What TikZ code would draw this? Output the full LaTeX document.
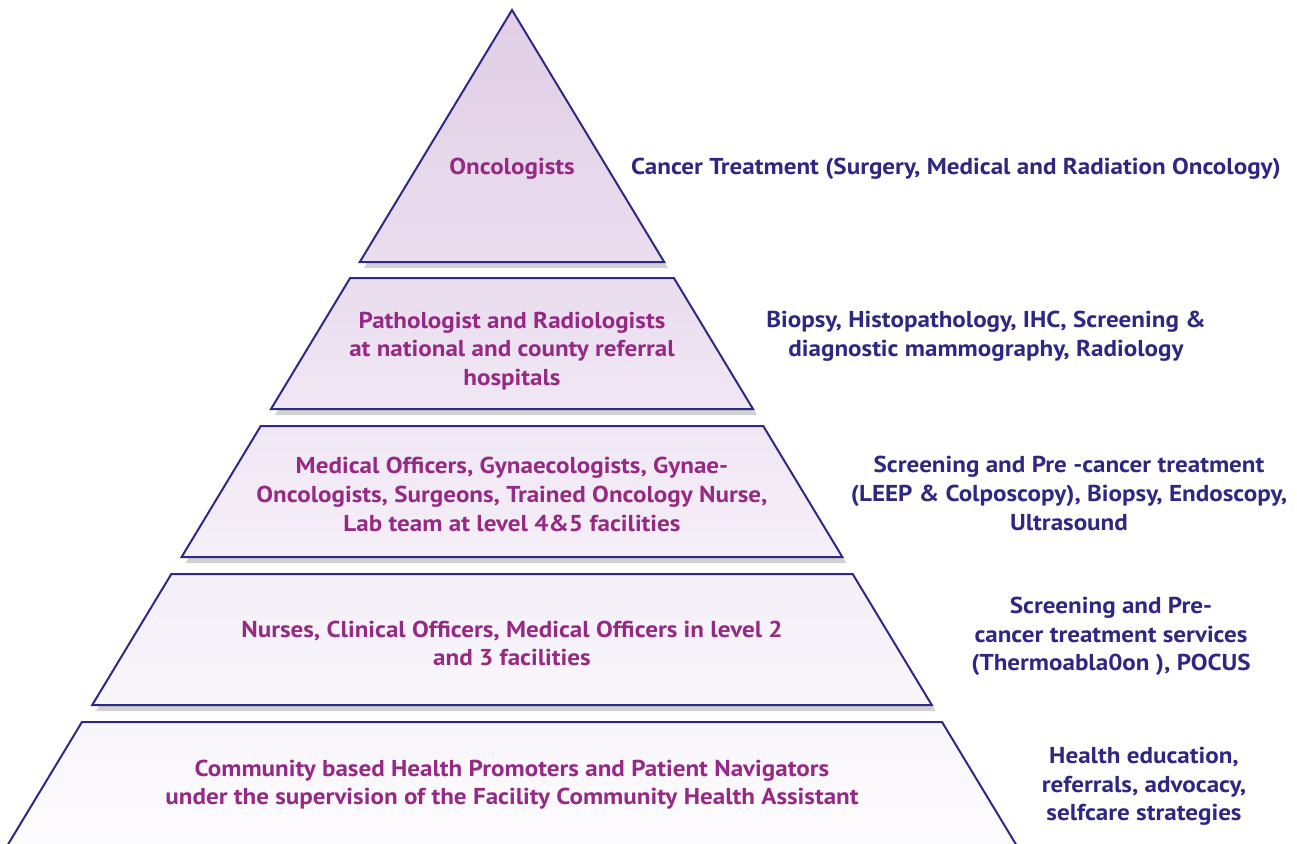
\documentclass[tikz,border=0pt]{standalone}
\usepackage{fontspec}
\setmainfont{PT Sans}[FakeStretch=1.09]
\usepackage{tikz}
\usetikzlibrary{positioning}
\usetikzlibrary{shadows}

\definecolor{edgecol}{HTML}{2E2A84}
\definecolor{rolecol}{HTML}{952A84}
\definecolor{taskcol}{HTML}{2F2782}
\definecolor{bandA}{RGB}{225,206,229}
\definecolor{bandB}{RGB}{234,221,238}
\definecolor{bandC}{RGB}{240,231,244}
\definecolor{bandD}{RGB}{245,239,248}
\definecolor{bandE}{RGB}{249,246,251}
\definecolor{bandF}{RGB}{253,252,254}

\tikzset{
	band/.style={draw=edgecol, line width=1pt, line join=miter,
		drop shadow={shadow xshift=2pt, shadow yshift=-3pt, opacity=0.18, fill=black}},
	role/.style={text=rolecol, align=center, font=\bfseries\fontsize{11.5}{14.3}\selectfont},
	task/.style={text=taskcol, align=center, font=\bfseries\fontsize{11.5}{14.3}\selectfont},
}

\begin{document}
\begin{tikzpicture}[x=0.5pt, y=-0.5pt]
	\clip (0,0) rectangle (1297,843);
	\useasboundingbox (0,0) rectangle (1297,843);
	\fill[white] (0,0) rectangle (1297,843);

	% pyramid bands, all on one slope from the apex at (512,10)
	\foreach \ytop/\ybot/\ctop/\cbot in {10/262/bandA/bandB, 278/409/bandB/bandC, 426/557/bandC/bandD, 574/705/bandD/bandE, 722/870/bandE/bandF}
		\draw[band, top color=\ctop, bottom color=\cbot]
			({512-0.604*(\ytop-10)},\ytop) -- ({512+0.604*(\ytop-10)},\ytop)
			-- ({512+0.604*(\ybot-10)},\ybot) -- ({512-0.604*(\ybot-10)},\ybot) -- cycle;

	% who does it
	\node[role] (oncologists) at (512,169) {Oncologists};
	\node[role] (pathologists) at (512,351) {Pathologist and Radiologists\\at national and county referral\\hospitals};
	\node[role] (officers) at (512,494.5) {Medical Officers, Gynaecologists, Gynae-\\Oncologists, Surgeons, Trained Oncology Nurse,\\Lab team at level 4\&5 facilities};
	\node[role] (nurses) at (512,643.5) {Nurses, Clinical Officers, Medical Officers in level 2\\and 3 facilities};
	\node[role] (community) at (512,784.5) {Community based Health Promoters and Patient Navigators\\under the supervision of the Facility Community Health Assistant};

	% what is done
	\node[task] (treatment) at (956,169) {Cancer Treatment (Surgery, Medical and Radiation Oncology)};
	\node[task] (diagnosis) at (986,336) {Biopsy, Histopathology, IHC, Screening \&\\diagnostic mammography, Radiology};
	\node[task] (precancer) at (1069,493.5) {Screening and Pre -cancer treatment\\(LEEP \& Colposcopy), Biopsy, Endoscopy,\\Ultrasound};
	\node[task] (screening) at (1111,636.5) {Screening and Pre-\\cancer treatment services\\(Thermoabla0on ), POCUS};
	\node[task] (education) at (1144,786.5) {Health education,\\referrals, advocacy,\\selfcare strategies};
\end{tikzpicture}
\end{document}
